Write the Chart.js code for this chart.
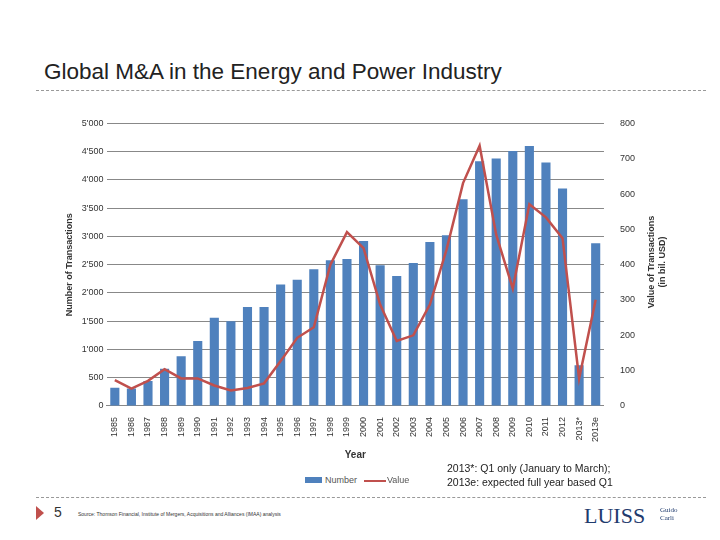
<!DOCTYPE html>
<html><head><meta charset="utf-8">
<script src="https://cdn.jsdelivr.net/npm/chart.js@4"></script>
<style>
body{margin:0;width:720px;height:540px;background:#fff;font-family:"Liberation Sans",Arial,sans-serif;position:relative;overflow:hidden}
.t{position:absolute;left:44px;top:59px;font-size:22.5px;color:#222}
.d{position:absolute;left:36px;right:14px;border-top:1px dashed #999}
#w{position:absolute;left:60px;top:110px;width:605px;height:355px}
.note{position:absolute;left:447px;top:461px;font-size:10.5px;color:#222;line-height:14px}
.leg{position:absolute;top:475px;font-size:9px;color:#555}
.rt{position:absolute;left:657px;top:262px;transform:translate(-50%,-50%) rotate(-90deg);font-size:9px;font-weight:bold;color:#333;text-align:center;line-height:11px;white-space:nowrap}
</style></head><body>
<div class="t">Global M&amp;A in the Energy and Power Industry</div>
<div class="d" style="top:90px"></div>
<div class="d" style="top:497px"></div>
<div id="w"><canvas id="c"></canvas></div>
<div class="rt">Value of Transactions<br>(in bil. USD)</div>
<div class="leg" style="left:305px"><span style="display:inline-block;width:17px;height:6px;background:#4f81bd;margin-right:3px"></span>Number</div>
<div class="leg" style="left:364px"><span style="display:inline-block;width:22px;height:2px;background:#c0504d;vertical-align:middle;margin-right:1px"></span>Value</div>
<div class="note">2013*: Q1 only (January to March);<br>2013e: expected full year based Q1</div>
<div style="position:absolute;left:36px;top:506px;width:0;height:0;border-top:7px solid transparent;border-bottom:7px solid transparent;border-left:8px solid #c0504d"></div>
<div style="position:absolute;left:54px;top:504px;font-size:14px;color:#333">5</div>
<div style="position:absolute;left:78px;top:511px;font-size:5px;color:#333">Source: Thomson Financial, Institute of Mergers, Acquisitions and Alliances (IMAA) analysis</div>
<div style="position:absolute;left:584px;top:503px;font-family:'Liberation Serif',serif;font-size:22px;color:#1f3b6e">LUISS</div>
<div style="position:absolute;left:660px;top:506px;font-family:'Liberation Serif',serif;font-size:7px;color:#1f3b6e;line-height:8px">Guido<br>Carli</div>
<script>
const years=['1985','1986','1987','1988','1989','1990','1991','1992','1993','1994','1995','1996','1997','1998','1999','2000','2001','2002','2003','2004','2005','2006','2007','2008','2009','2010','2011','2012','2013*','2013e'];
const numberVals=[324,310,440,660,880,1150,1560,1500,1750,1750,2150,2235,2420,2580,2600,2920,2490,2300,2530,2900,3020,3660,4330,4380,4510,4600,4310,3850,720,2880];
const valueVals=[73,49,71,104,78,78,58,44,51,64,127,193,223,400,492,447,287,184,200,287,442,631,737,485,332,571,534,475,78,301];
const fmt=v=>v>=1000?Math.floor(v/1000)+"'"+String(v%1000).padStart(3,'0'):String(v);
Chart.defaults.font.family='"Liberation Sans",Arial,sans-serif';
Chart.defaults.font.size=9;Chart.defaults.color='#444';
new Chart(document.getElementById('c'),{data:{labels:years,datasets:[
{type:'line',label:'Value',data:valueVals,yAxisID:'y1',borderColor:'#c0504d',borderWidth:2.5,pointRadius:0,tension:0,order:0},
{type:'bar',label:'Number',data:numberVals,yAxisID:'y',backgroundColor:'#4f81bd',categoryPercentage:1,barPercentage:0.55,order:1}]},
options:{responsive:true,maintainAspectRatio:false,animation:false,plugins:{legend:{display:false},tooltip:{enabled:false}},
layout:{padding:{top:5,right:22}},
scales:{x:{grid:{display:false},border:{color:'#888'},ticks:{maxRotation:90,minRotation:90,autoSkip:false,color:'#333'},title:{display:true,text:'Year',font:{weight:'bold',size:10},color:'#333'}},
y:{position:'left',min:0,max:5000,ticks:{stepSize:500,callback:fmt,color:'#333'},grid:{color:'#888',drawTicks:false},border:{display:false},title:{display:true,text:'Number of Transactions',font:{weight:'bold',size:9},color:'#333'}},
y1:{position:'right',min:0,max:800,ticks:{stepSize:100,color:'#333',padding:8},grid:{display:false},border:{display:false}}}}});
</script></body></html>
